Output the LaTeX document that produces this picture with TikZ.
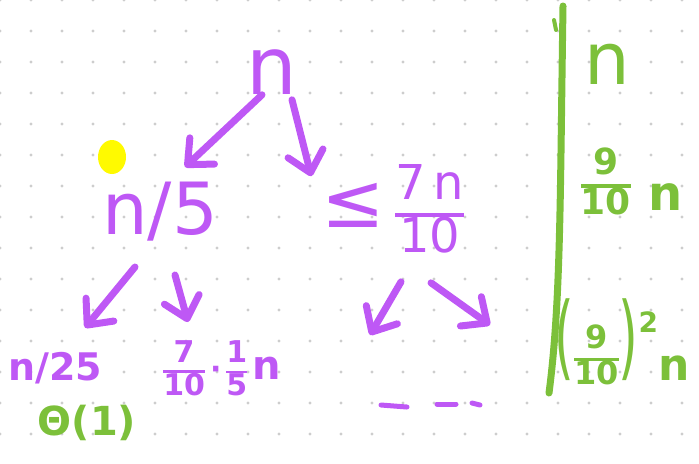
\documentclass[tikz,border=0pt]{standalone}
\usepackage{fontspec}
\setmainfont{DejaVu Sans}
\usepackage{tikz}
\usetikzlibrary{arrows.meta, positioning}
\definecolor{penpurple}{RGB}{190,88,245}
\definecolor{pengreen}{RGB}{124,192,58}
\definecolor{penyellow}{RGB}{255,250,0}
\definecolor{griddot}{RGB}{205,205,205}
\newcommand\hfrac[2]{{\setlength\arrayrulewidth{.09em}\renewcommand\arraystretch{.8}\begin{tabular}{@{}c@{}}#1\\\hline #2\end{tabular}}}
\newcommand\tallparen[1]{{\mdseries\fontsize{46}{46}\selectfont\scalebox{.55}[1]{#1}}}
\tikzset{
	term/.style={
		text=penpurple,
		inner sep=0pt
	},
	note/.style={
		text=pengreen,
		inner sep=0pt
	},
	arrow/.style={
		draw=penpurple,
		line width=3.5pt,
		line cap=round,
		-{Straight Barb[round, length=10pt, width=18pt]}
	},
	stroke/.style={
		line width=3.5pt,
		line cap=round
	}
}

\begin{document}
\begin{tikzpicture}[x=0.5pt, y=-0.5pt]
		\useasboundingbox (0,0) rectangle (699,463);
		
		% dotted paper
		\foreach \i in {0,...,22}
			\foreach \j in {0,...,14}
				\fill[griddot] (31*\i,31*\j) circle (0.8pt);
		
		% recursion tree
		\node (n)     [term, font=\fontsize{40}{44}\selectfont]          at (272,72)  {n};
		\node (n5)    [term, font=\fontsize{36}{40}\selectfont]          at (160,212) {n/5};
		\node (le)    [term]                                             at (393,215) {{\fontsize{38}{40}\selectfont ≤}\enspace{\fontsize{24}{27}\selectfont\hfrac{7\,n}{10}}};
		\node (n25)   [term, font=\bfseries\fontsize{19}{22}\selectfont] at (55,368)  {n/25};
		\node (m)     [term, font=\bfseries\fontsize{15}{17}\selectfont] at (222,372) {\hfrac{7}{10}\,·\,\hfrac{1}{5}\,{\fontsize{20}{22}\selectfont n}};
		\node (theta) [note, font=\bfseries\fontsize{20}{22}\selectfont, below=10pt of n25, xshift=16pt] {Θ(1)};
		\coordinate (c1) at (370,335);
		\coordinate (c2) at (490,325);
		
		\draw [arrow] ([shift={(-10,0)}]n.south)  -- ([shift={(25,-15)}]n5.north);
		\draw [arrow] ([shift={(20,5)}]n.south)   -- ([shift={(-10,12)}]le.north west);
		\draw [arrow] ([shift={(-25,25)}]n5.south) -- ([shift={(30,-24)}]n25.north);
		\draw [arrow] ([shift={(15,33)}]n5.south)  -- ([shift={(-34,-18)}]m.north);
		\draw [arrow] ([shift={(8,16)}]le.south)   -- (c1);
		\draw [arrow] ([shift={(38,17)}]le.south)  -- (c2);
		
		% next level left open
		\draw [stroke, penpurple, line width=2.5pt] (381,405) -- (407,407);
		\draw [stroke, penpurple, line width=2.5pt] (437,404) -- (456,404);
		\draw [stroke, penpurple, line width=2.5pt] (472,403) -- (480,405);
		
		\fill [penyellow] (112,157) ellipse (7pt and 8.5pt);
		
		% cost per level
		\draw [stroke, pengreen] (563,6) .. controls (560,200) and (561,300) .. (549,393);
		\draw [stroke, pengreen, line width=2pt] (554,20) -- (556,30);
		\node (gn) [note, font=\fontsize{36}{40}\selectfont] at (607,64)  {n};
		\node (g1) [note, font=\bfseries\fontsize{18}{21}\selectfont] at (632,186) {\hfrac{9}{10}\enspace\raisebox{-.45em}{\fontsize{24}{26}\selectfont n}};
		\node (g2) [note, font=\bfseries\fontsize{16}{19}\selectfont] at (622,346) {\tallparen{(}\hfrac{9}{10}\tallparen{)}\raisebox{1.1em}{\fontsize{14}{16}\selectfont 2}\raisebox{-.4em}{\fontsize{22}{24}\selectfont n}};
		
	\end{tikzpicture}
\end{document}
